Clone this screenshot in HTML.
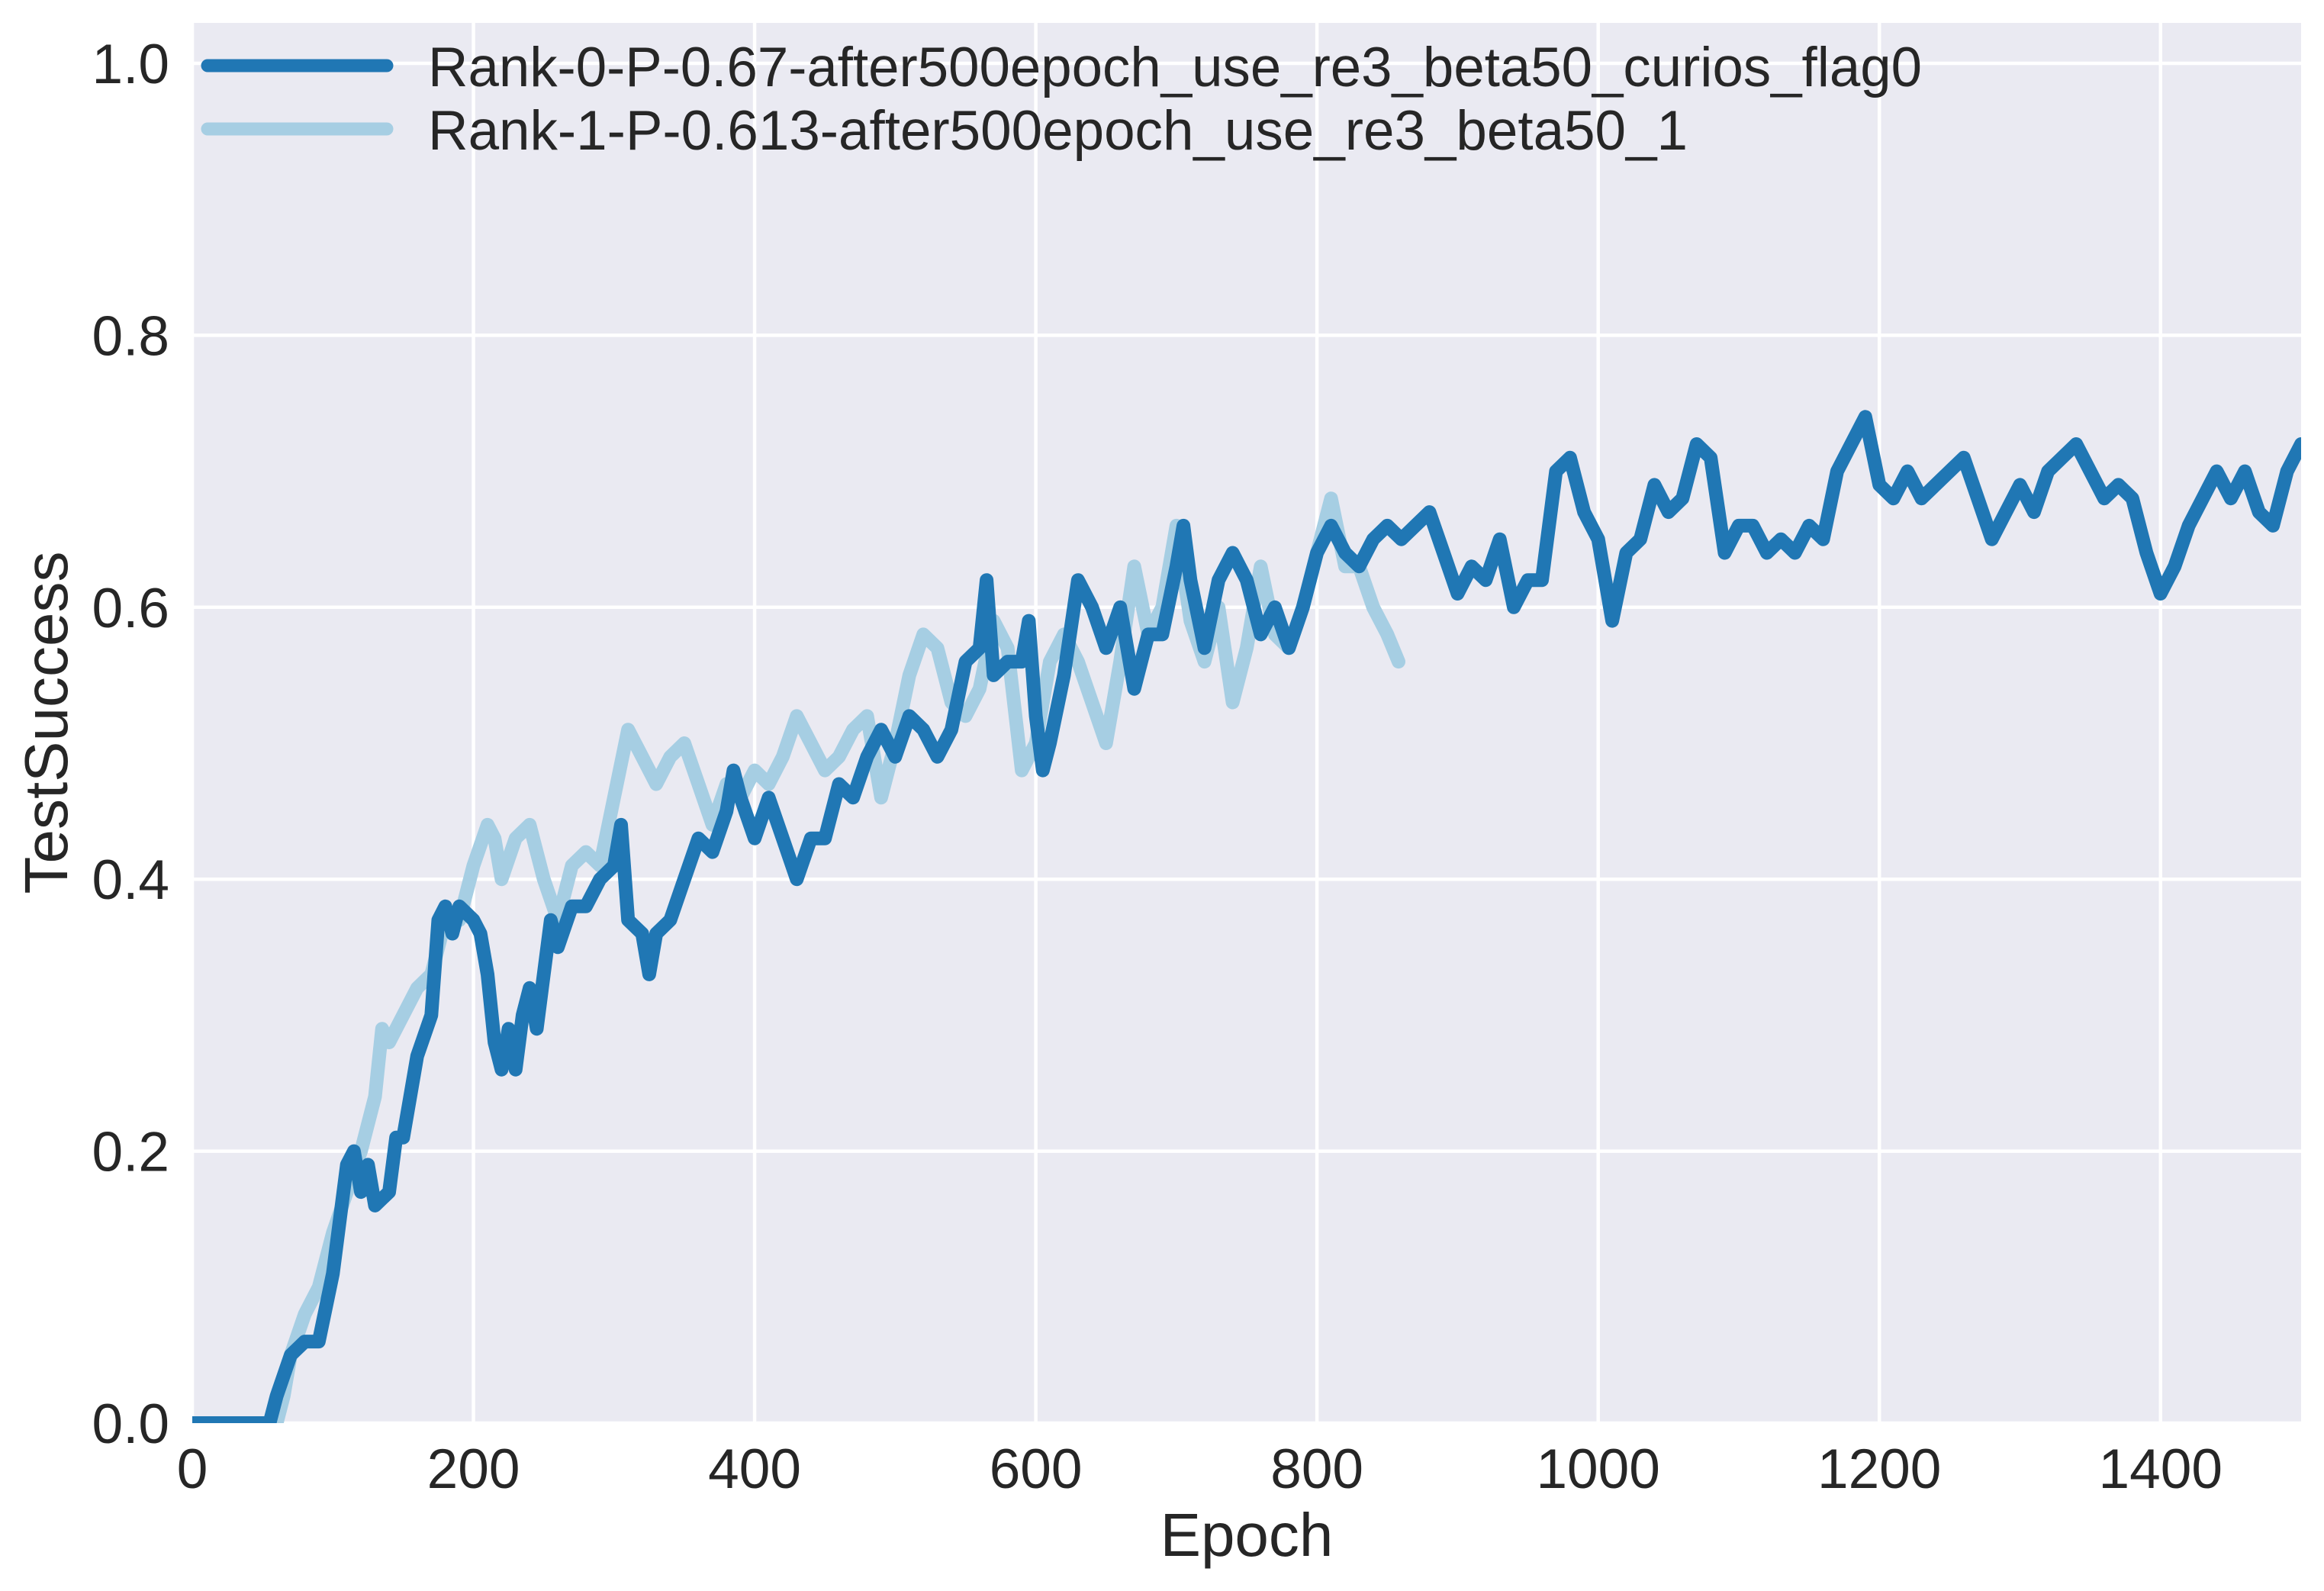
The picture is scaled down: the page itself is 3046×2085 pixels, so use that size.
<!DOCTYPE html>
<html><head><meta charset="utf-8"><style>
html,body{margin:0;padding:0;background:#fff;}
svg{display:block;font-family:"Liberation Sans",Arial,sans-serif;}
</style></head><body>
<svg id="chart" width="3046" height="2085" viewBox="0 0 3046 2085" xmlns="http://www.w3.org/2000/svg">
<defs><clipPath id="plotclip"><rect x="252" y="30" width="2764" height="1835"/></clipPath></defs>
<rect x="252" y="30" width="2764" height="1835" fill="#eaeaf2"/>
<g id="grid"></g>
<g id="ticks"></g>
<g id="series" clip-path="url(#plotclip)"></g>
<text x="1634" y="2039" font-size="80" text-anchor="middle" fill="#262626">Epoch</text>
<text x="0" y="0" font-size="80" text-anchor="middle" fill="#262626" transform="translate(88,947) rotate(-90)">TestSuccess</text>
<g>
<line x1="272" y1="86" x2="507" y2="86" stroke="#2077b4" stroke-width="17" stroke-linecap="round"/>
<text x="561" y="113" font-size="73" fill="#262626" textLength="1958" lengthAdjust="spacingAndGlyphs">Rank-0-P-0.67-after500epoch_use_re3_beta50_curios_flag0</text>
<line x1="272" y1="169" x2="507" y2="169" stroke="#a6cee3" stroke-width="17" stroke-linecap="round"/>
<text x="561" y="196" font-size="73" fill="#262626" textLength="1651" lengthAdjust="spacingAndGlyphs">Rank-1-P-0.613-after500epoch_use_re3_beta50_1</text>
</g>
</svg>
<script>
const xTicks = [0,200,400,600,800,1000,1200,1400];
const yTicks = [0.0,0.2,0.4,0.6,0.8,1.0];
const yTickLabels = ["0.0","0.2","0.4","0.6","0.8","1.0"];
const rank0Epochs = [0,55,60,70,80,90,100,110,115,120,125,130,140,145,150,160,170,175,180,185,190,200,205,210,215,220,225,230,235,240,245,250,255,260,270,280,290,300,305,310,320,325,330,340,350,360,370,380,385,390,400,410,420,430,440,450,460,470,480,490,500,510,520,530,540,550,560,565,570,580,590,595,600,605,610,620,630,640,650,660,670,680,690,700,705,710,720,730,740,750,760,770,780,790,800,810,820,830,840,850,860,870,880,890,900,910,920,930,940,950,960,970,980,990,1000,1010,1020,1030,1040,1050,1060,1070,1080,1090,1100,1110,1120,1130,1140,1150,1160,1170,1180,1190,1200,1210,1220,1230,1240,1250,1260,1270,1280,1290,1300,1310,1320,1330,1340,1350,1360,1370,1380,1390,1400,1410,1420,1430,1440,1450,1460,1470,1480,1490,1500];
const rank0Values = [0,0,0.02,0.05,0.06,0.06,0.11,0.19,0.2,0.17,0.19,0.16,0.17,0.21,0.21,0.27,0.3,0.37,0.38,0.36,0.38,0.37,0.36,0.33,0.28,0.26,0.29,0.26,0.3,0.32,0.29,0.33,0.37,0.35,0.38,0.38,0.4,0.41,0.44,0.37,0.36,0.33,0.36,0.37,0.4,0.43,0.42,0.45,0.48,0.46,0.43,0.46,0.43,0.4,0.43,0.43,0.47,0.46,0.49,0.51,0.49,0.52,0.51,0.49,0.51,0.56,0.57,0.62,0.55,0.56,0.56,0.59,0.52,0.48,0.5,0.55,0.62,0.6,0.57,0.6,0.54,0.58,0.58,0.63,0.66,0.62,0.57,0.62,0.64,0.62,0.58,0.6,0.57,0.6,0.64,0.66,0.64,0.63,0.65,0.66,0.65,0.66,0.67,0.64,0.61,0.63,0.62,0.65,0.6,0.62,0.62,0.7,0.71,0.67,0.65,0.59,0.64,0.65,0.69,0.67,0.68,0.72,0.71,0.64,0.66,0.66,0.64,0.65,0.64,0.66,0.65,0.7,0.72,0.74,0.69,0.68,0.7,0.68,0.69,0.7,0.71,0.68,0.65,0.67,0.69,0.67,0.7,0.71,0.72,0.7,0.68,0.69,0.68,0.64,0.61,0.63,0.66,0.68,0.7,0.68,0.7,0.67,0.66,0.7,0.72];
const rank1Epochs = [0,60,65,70,80,90,100,110,120,130,135,140,150,160,170,180,190,200,210,215,220,230,240,250,260,270,280,290,300,310,320,330,340,350,360,370,380,390,400,410,420,430,440,450,460,470,480,490,500,510,520,530,540,550,560,570,580,590,600,610,620,630,640,650,660,670,680,690,700,710,720,730,740,750,760,770,780,790,800,810,820,830,840,850,858];
const rank1Values = [0,0,0.02,0.05,0.08,0.1,0.14,0.17,0.2,0.24,0.29,0.28,0.3,0.32,0.33,0.37,0.37,0.41,0.44,0.43,0.4,0.43,0.44,0.4,0.37,0.41,0.42,0.41,0.46,0.51,0.49,0.47,0.49,0.5,0.47,0.44,0.47,0.46,0.48,0.47,0.49,0.52,0.5,0.48,0.49,0.51,0.52,0.46,0.5,0.55,0.58,0.57,0.53,0.52,0.54,0.59,0.57,0.48,0.5,0.56,0.58,0.56,0.53,0.5,0.56,0.63,0.58,0.6,0.66,0.59,0.56,0.6,0.53,0.57,0.63,0.58,0.57,0.6,0.64,0.68,0.63,0.63,0.6,0.58,0.56];

const NS = "http://www.w3.org/2000/svg";
const X0 = 252, X1 = 3016, Y0 = 1865, Y1 = 83;
function xScale(e){ return X0 + (e/1500)*(X1-X0); }
function yScale(v){ return Y0 - v*(Y0-Y1); }

const grid = document.getElementById('grid');
const ticks = document.getElementById('ticks');
xTicks.forEach(function(t){
  const l = document.createElementNS(NS,'line');
  
  
  l.setAttribute('x1',xScale(t)); l.setAttribute('x2',xScale(t));
  l.setAttribute('y1',30); l.setAttribute('y2',1865);
  l.setAttribute('stroke','#fff'); l.setAttribute('stroke-width','4.5');
  grid.appendChild(l);
  const tx = document.createElementNS(NS,'text');
  
  
  tx.setAttribute('x',xScale(t)); tx.setAttribute('y',1950);
  tx.setAttribute('font-size','73'); tx.setAttribute('text-anchor','middle'); tx.setAttribute('fill','#262626');
  tx.textContent = String(t);
  ticks.appendChild(tx);
});
yTicks.forEach(function(t,i){
  const l = document.createElementNS(NS,'line');
  
  
  l.setAttribute('x1',252); l.setAttribute('x2',3016);
  l.setAttribute('y1',yScale(t)); l.setAttribute('y2',yScale(t));
  l.setAttribute('stroke','#fff'); l.setAttribute('stroke-width','4.5');
  grid.appendChild(l);
  const tx = document.createElementNS(NS,'text');
  
  
  tx.setAttribute('x',222); tx.setAttribute('y',yScale(t)+26);
  tx.setAttribute('font-size','73'); tx.setAttribute('text-anchor','end'); tx.setAttribute('fill','#262626');
  tx.textContent = yTickLabels[i];
  ticks.appendChild(tx);
});

const series = document.getElementById('series');
function drawLine(xs, ys, color, name){
  let d = '';
  for (let i=0;i<xs.length;i++){ d += (i?'L':'M') + xScale(xs[i]).toFixed(1) + ',' + yScale(ys[i]).toFixed(1); }
  const p = document.createElementNS(NS,'path');
  
  
  p.setAttribute('d', d);
  p.setAttribute('fill','none'); p.setAttribute('stroke',color);
  p.setAttribute('stroke-width','18'); p.setAttribute('stroke-linejoin','round'); p.setAttribute('stroke-linecap','round');
  series.appendChild(p);
}
drawLine(rank1Epochs, rank1Values, '#a6cee3', 'line-rank1');
drawLine(rank0Epochs, rank0Values, '#2077b4', 'line-rank0');
</script>
</body></html>
